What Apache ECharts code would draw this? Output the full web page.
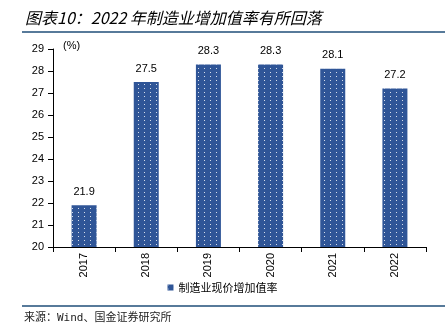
<!DOCTYPE html>
<html><head><meta charset="utf-8">
<script src="https://cdn.jsdelivr.net/npm/echarts@6/dist/echarts.min.js"></script>
<style>html,body{margin:0;padding:0;background:#fff}#c{width:445px;height:328px}</style>
</head><body><div id="c"></div>
<script>
const categories = ['2017','2018','2019','2020','2021','2022'];
const values = [21.9, 27.5, 28.3, 28.3, 28.1, 27.2];
const seriesName = '制造业现价增加值率';
const yMin = 20, yMax = 29, yInterval = 1;

const chart = echarts.init(document.getElementById('c'), null, {renderer:'canvas'});
chart.setOption({
  animation:false,
  backgroundColor:'#fff',
  title:{
    text:'图表10：2022 年制造业增加值率有所回落',
    left:20, top:5,
    textStyle:{fontFamily:'Noto Sans CJK SC', fontStyle:'italic', fontWeight:'normal', fontSize:16, color:'#000'}
  },
  graphic:[
    {type:'line', shape:{x1:22,y1:32,x2:445,y2:32}, style:{stroke:'#1f4e79', lineWidth:1.5}},
    {type:'line', shape:{x1:22,y1:306,x2:445,y2:306}, style:{stroke:'#1f4e79', lineWidth:1.5}},
    {type:'text', left:24, top:313, style:{text:'来源：Wind、国金证券研究所', font:'11px "DejaVu Sans Mono", "Noto Sans CJK SC"', fill:'#222'}}
  ],
  grid:{left:53, right:19, top:49, bottom:81, containLabel:false},
  legend:{
    data:[seriesName], bottom:30, left:'center', itemWidth:6, itemHeight:6, itemGap:4,
    textStyle:{fontFamily:'Noto Sans CJK SC', fontSize:11, color:'#000'},
    icon:'rect'
  },
  xAxis:{
    type:'category', data:categories,
    axisLine:{lineStyle:{color:'#000'}},
    axisTick:{show:true, alignWithLabel:false, lineStyle:{color:'#000'}},
    axisLabel:{rotate:90, fontFamily:'Liberation Sans', fontSize:11, color:'#000', margin:6}
  },
  yAxis:{
    type:'value', min:yMin, max:yMax, interval:yInterval,
    name:'(%)', nameLocation:'end', nameGap:-2,
    nameTextStyle:{fontFamily:'Liberation Sans', fontSize:11, color:'#000', align:'left', padding:[0,0,0,10]},
    axisLine:{show:true, lineStyle:{color:'#000'}},
    axisTick:{show:true, lineStyle:{color:'#000'}},
    splitLine:{show:false},
    axisLabel:{fontFamily:'Liberation Sans', fontSize:11, color:'#000', margin:9}
  },
  series:[{
    name:seriesName, type:'bar', data:values, barWidth:25,
    itemStyle:{color:'#2f5597',
      decal:{symbol:'rect', symbolSize:1, color:'rgba(255,255,255,0.8)', dashArrayX:[1,5], dashArrayY:[1,3], rotation:0}},
    label:{show:true, position:'top', distance:8, fontFamily:'Liberation Sans', fontSize:11, color:'#000'}
  }]
});
</script></body></html>
